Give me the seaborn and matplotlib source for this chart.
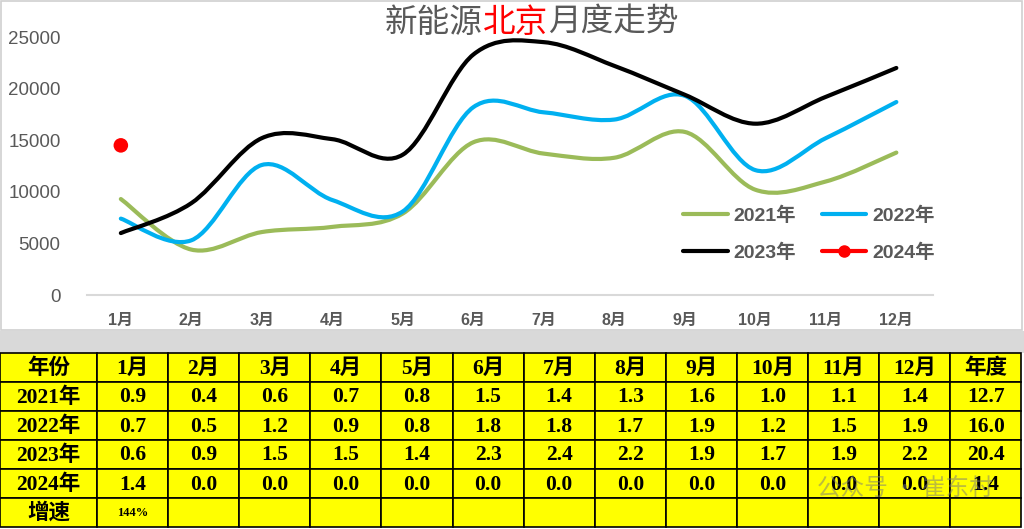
import matplotlib

matplotlib.use("Agg")
import matplotlib.pyplot as plt
import pandas as pd
import seaborn as sns
from matplotlib.lines import Line2D
from matplotlib.patches import PathPatch, Rectangle
from matplotlib.path import Path

MONTHS = [f"{i}月" for i in range(1, 13)]
YEARS = ["2021年", "2022年", "2023年", "2024年"]

# monthly sales
SALES_2021 = [9300, 4400, 6100, 6600, 7900, 14800, 13700, 13300, 15800, 10200, 11000, 13800]
SALES_2022 = [7400, 5300, 12600, 9200, 8100, 18200, 17700, 17000, 19300, 12100, 15200, 18700]
SALES_2023 = [6000, 8900, 15200, 15100, 13600, 23300, 24500, 22200, 19400, 16600, 19200, 22000]
SALES_2024 = [14500]

# table values (万辆)
TABLE_2021 = [0.9, 0.4, 0.6, 0.7, 0.8, 1.5, 1.4, 1.3, 1.6, 1.0, 1.1, 1.4]
TABLE_2022 = [0.7, 0.5, 1.2, 0.9, 0.8, 1.8, 1.8, 1.7, 1.9, 1.2, 1.5, 1.9]
TABLE_2023 = [0.6, 0.9, 1.5, 1.5, 1.4, 2.3, 2.4, 2.2, 1.9, 1.7, 1.9, 2.2]
TABLE_2024 = [1.4, 0.0, 0.0, 0.0, 0.0, 0.0, 0.0, 0.0, 0.0, 0.0, 0.0, 0.0]
ANNUAL = [12.7, 16.0, 20.4, 1.4]
GROWTH = ["144%"]

COLORS = {"2021年": "#9BBB59", "2022年": "#00B0F0", "2023年": "#000000", "2024年": "#FF0000"}
TEXT_GRAY = "#595959"
W, H = 1024, 529


def smooth_path(xs, ys):
    # excel-style smoothed line: cubic bezier through every point
    pts = list(zip(xs, ys))
    verts = [pts[0]]
    codes = [Path.MOVETO]
    n = len(pts)
    for i in range(n - 1):
        p0 = pts[i - 1] if i > 0 else pts[i]
        p1, p2 = pts[i], pts[i + 1]
        p3 = pts[i + 2] if i + 2 < n else pts[i + 1]
        c1 = (p1[0] + (p2[0] - p0[0]) / 6, p1[1] + (p2[1] - p0[1]) / 6)
        c2 = (p2[0] - (p3[0] - p1[0]) / 6, p2[1] - (p3[1] - p1[1]) / 6)
        verts += [c1, c2, p2]
        codes += [Path.CURVE4] * 3
    return Path(verts, codes)


def main() -> None:
    sns.set_theme(style="white")
    plt.rcParams["font.family"] = ["Liberation Sans", "Noto Sans CJK SC"]

    fig = plt.figure(figsize=(W / 100, H / 100), dpi=100)

    # background layer in pixel coordinates: frame, band, table
    bg = fig.add_axes([0, 0, 1, 1])
    bg.set_xlim(0, W)
    bg.set_ylim(H, 0)
    bg.axis("off")
    bg.add_patch(Rectangle((1, 1), W - 3, 329, fill=False, edgecolor="#d0d0d0", lw=1.2))
    bg.add_patch(Rectangle((0, 331), W, 22, facecolor="#d9d9d9", edgecolor="none"))

    col_edges = [0, 97] + [97 + 71.1 * (k + 1) for k in range(13)]
    row_edges = [353 + 29 * r for r in range(7)]
    header = ["年份"] + MONTHS + ["年度"]
    body = []
    for year, vals, total in zip(YEARS, [TABLE_2021, TABLE_2022, TABLE_2023, TABLE_2024], ANNUAL):
        body.append([year] + [f"{v:.1f}" for v in vals] + [f"{total:.1f}"])
    body.append(["增速"] + GROWTH + [""] * (13 - len(GROWTH)))
    rows = [header] + body

    serif = ["Liberation Serif", "Noto Sans CJK SC"]
    for r, row in enumerate(rows):
        for c, txt in enumerate(row):
            x0, x1 = col_edges[c], col_edges[c + 1]
            y0, y1 = row_edges[r], row_edges[r + 1]
            bg.add_patch(Rectangle((x0, y0), x1 - x0, y1 - y0, facecolor="#FFFF00",
                                   edgecolor="black", lw=1.2))
            if not txt:
                continue
            small = txt.endswith("%")
            bg.text((x0 + x1) / 2, (y0 + y1) / 2 + 1, txt, ha="center", va="center",
                    family=serif, fontsize=9 if small else 15.5, fontweight="bold",
                    color="black")

    # faint watermark over the last row, as in the source image
    bg.text(905, 488, "公众号 · 崔东村", ha="center", va="center", fontsize=17,
            family=["Noto Sans CJK SC", "DejaVu Sans"], color="#7a7a7a", alpha=0.5)

    # line chart
    ax = fig.add_axes([87 / W, 1 - 295 / H, (933 - 87) / W, (295 - 37) / H])
    ax.set_facecolor("none")

    series = {"2021年": SALES_2021, "2022年": SALES_2022, "2023年": SALES_2023}
    df = pd.DataFrame(
        [(yr, i, v) for yr, vals in series.items() for i, v in enumerate(vals)],
        columns=["year", "month", "sales"],
    )
    sns.lineplot(data=df, x="month", y="sales", hue="year", palette=COLORS,
                 linewidth=3, legend=False, sort=False, ax=ax)
    for line in list(ax.lines):
        xs, ys = line.get_xdata(), line.get_ydata()
        ax.add_patch(PathPatch(smooth_path(xs, ys), facecolor="none",
                               edgecolor=line.get_color(), lw=3, capstyle="round",
                               joinstyle="round"))
        line.set_visible(False)

    df24 = pd.DataFrame({"month": list(range(len(SALES_2024))), "sales": SALES_2024})
    sns.scatterplot(data=df24, x="month", y="sales", color=COLORS["2024年"], s=110,
                    edgecolor="none", ax=ax, zorder=5)

    ax.set_xlim(-0.48, 11.52)
    ax.set_ylim(0, 25000)
    ax.set_xticks(range(12))
    ax.set_xticklabels(MONTHS, fontsize=11.5, fontweight="bold", color=TEXT_GRAY)
    ax.set_yticks(range(0, 25001, 5000))
    ax.set_yticklabels([str(v) for v in range(0, 25001, 5000)], fontsize=13.5,
                       color=TEXT_GRAY)
    ax.tick_params(axis="x", length=0, pad=13)
    ax.tick_params(axis="y", length=0, pad=19)
    ax.set_xlabel("")
    ax.set_ylabel("")
    for side in ["top", "left", "right"]:
        ax.spines[side].set_visible(False)
    ax.spines["bottom"].set_color("#d9d9d9")
    ax.spines["bottom"].set_linewidth(1.5)

    handles = [
        Line2D([], [], color=COLORS["2021年"], lw=3),
        Line2D([], [], color=COLORS["2023年"], lw=3),
        Line2D([], [], color=COLORS["2022年"], lw=3),
        Line2D([], [], color=COLORS["2024年"], lw=3, marker="o", markersize=8),
    ]
    labels = ["2021年", "2023年", "2022年", "2024年"]
    leg = fig.legend(handles, labels, ncol=2, loc="center",
                     bbox_to_anchor=(809 / W, 1 - 234 / H), frameon=False,
                     fontsize=14, handlelength=2.3, handletextpad=0.3,
                     columnspacing=1.3, labelspacing=0.95)
    for t in leg.get_texts():
        t.set_color(TEXT_GRAY)
        t.set_fontweight("bold")

    # title with the city name in red
    title_kw = dict(fontsize=23.5, color=TEXT_GRAY, va="center",
                    family=["Noto Sans CJK SC", "DejaVu Sans"])
    t1 = fig.text(483 / W, 1 - 23 / H, "新能源", ha="right", **title_kw)
    t2 = ax.annotate("北京", xy=(1, 0.5), xycoords=t1, ha="left",
                     **{**title_kw, "color": "#FF0000"})
    ax.annotate("月度走势", xy=(1, 0.5), xycoords=t2, ha="left", **title_kw)

    fig.savefig("out.png", dpi=100, facecolor="white")
    plt.close(fig)


if __name__ == "__main__":
    main()
